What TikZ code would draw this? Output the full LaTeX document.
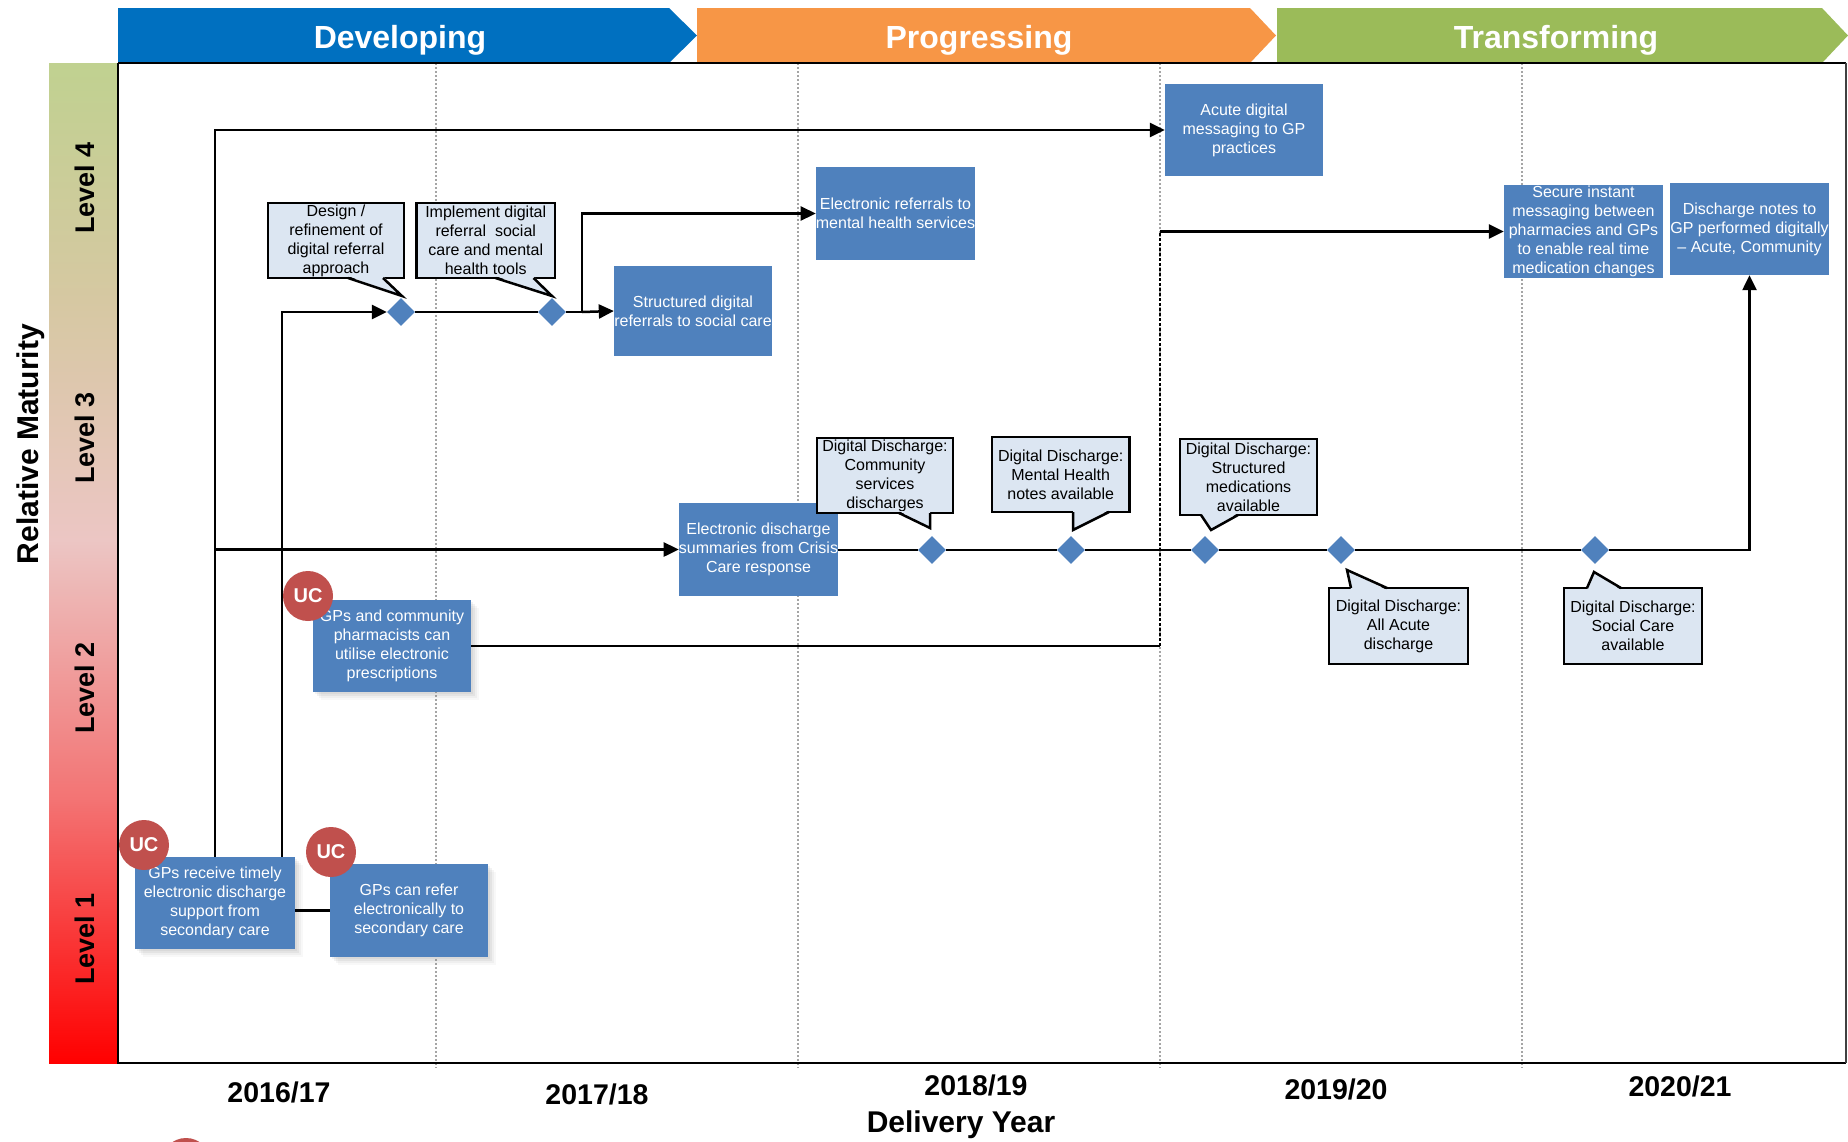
\documentclass[tikz,border=0pt]{standalone}
\usepackage{fontspec}
\setmainfont{Liberation Sans}
\usetikzlibrary{arrows.meta,shapes.geometric,shadows,calc}

\definecolor{devblue}{RGB}{0,112,192}
\definecolor{progorange}{RGB}{247,150,70}
\definecolor{transgreen}{RGB}{155,187,89}
\definecolor{boxblue}{RGB}{79,129,189}
\definecolor{callfill}{RGB}{220,230,242}
\definecolor{ucred}{RGB}{192,80,77}
\definecolor{gridgray}{RGB}{165,165,165}
\definecolor{lvA}{RGB}{192,209,144}
\definecolor{lvB}{RGB}{214,200,162}
\definecolor{lvC}{RGB}{236,198,196}
\definecolor{lvD}{RGB}{243,115,115}
\definecolor{lvE}{RGB}{255,0,0}

\tikzset{
  txt/.style={font=\fontsize{16}{19}\selectfont},
  bluebox/.style={rectangle, fill=boxblue, text=white, inner sep=0pt, align=center, txt},
  shadowed/.style={
    drop shadow={shadow xshift=2pt, shadow yshift=-2pt, opacity=0.10},
    drop shadow={shadow xshift=4pt, shadow yshift=-4pt, opacity=0.10},
    drop shadow={shadow xshift=6pt, shadow yshift=-6pt, opacity=0.08},
    drop shadow={shadow xshift=8pt, shadow yshift=-8pt, opacity=0.05}},
  callbox/.style={rectangle, fill=callfill, draw=black, line width=2.5pt, inner sep=0pt, align=center, txt, text=black},
  milestone/.style={diamond, fill=boxblue, minimum width=28pt, minimum height=28pt, inner sep=0pt},
  ucbadge/.style={circle, fill=ucred, text=white, minimum size=50pt, inner sep=0pt, font=\fontsize{20}{20}\selectfont\bfseries},
  link/.style={line width=2.5pt, draw=black},
  arrowlink/.style={link, -{Triangle[length=15pt,width=14pt]}},
  pointerline/.style={line width=2.5pt, line join=miter},
  phasetxt/.style={font=\fontsize{32}{32}\selectfont\bfseries, text=white, anchor=base, inner sep=0pt},
  leveltxt/.style={font=\fontsize{27}{27}\selectfont\bfseries, rotate=90, inner sep=0pt},
  yeartxt/.style={font=\fontsize{28.5}{30}\selectfont\bfseries, anchor=base, inner sep=0pt},
  gridline/.style={draw=gridgray, line width=1.5pt, dash pattern=on 2pt off 2pt}
}

\begin{document}
\begin{tikzpicture}[x=1pt,y=-1pt]
\useasboundingbox (0,0) rectangle (1848,1141);
\clip (0,0) rectangle (1848,1141);
\fill[white] (0,0) rectangle (1848,1141);

% maturity colour bar
\shade[top color=lvA, bottom color=lvB] (49,63) rectangle (118,301);
\shade[top color=lvB, bottom color=lvC] (49,300) rectangle (118,541);
\shade[top color=lvC, bottom color=lvD] (49,540) rectangle (118,801);
\shade[top color=lvD, bottom color=lvE] (49,800) rectangle (118,1063);

\node[leveltxt] (lv4) at (85,188) {Level 4};
\node[leveltxt] (lv3) at (85,438) {Level 3};
\node[leveltxt] (lv2) at (85,688) {Level 2};
\node[leveltxt] (lv1) at (85,939) {Level 1};
\node[font=\fontsize{30}{30}\selectfont\bfseries, rotate=90, inner sep=0pt] (ymat) at (31,444) {Relative Maturity};

% phase chevrons
\fill[devblue] (118,8) -- (669,8) -- (697,35.5) -- (669,63) -- (118,63) -- cycle;
\fill[progorange] (697,8) -- (1250,8) -- (1276,35.5) -- (1250,63) -- (697,63) -- cycle;
\fill[transgreen] (1277,8) -- (1822,8) -- (1848,35.5) -- (1822,63) -- (1277,63) -- cycle;
\node[phasetxt] (ph1) at (400,48) {Developing};
\node[phasetxt] (ph2) at (979,48) {Progressing};
\node[phasetxt] (ph3) at (1556,48) {Transforming};

% year dividers
\foreach \gx in {436,798,1160,1522}
  \draw[gridline] (\gx,63) -- (\gx,1068);

% chart frame
\draw[line width=2.5pt] (118,63) -- (1846,63);
\draw[line width=2.5pt] (118,63) -- (118,1063) -- (1846,1063);
\draw[line width=1.2pt, draw=black!75] (1846,63) -- (1846,1063);

% year axis
\node[yeartxt] (y1) at (279,1102) {2016/17};
\node[yeartxt] (y2) at (597,1104) {2017/18};
\node[yeartxt] (y3) at (976,1095) {2018/19};
\node[yeartxt] (y4) at (1336,1099) {2019/20};
\node[yeartxt] (y5) at (1680,1096) {2020/21};
\node[font=\fontsize{30}{30}\selectfont\bfseries, anchor=base, inner sep=0pt] (xlab) at (961,1132) {Delivery Year};

% capability boxes
\node[bluebox, shadowed, minimum width=160pt, minimum height=92pt] (b1) at (215,903)
  {GPs receive timely\\electronic discharge\\support from\\secondary care};
\node[bluebox, shadowed, minimum width=158pt, minimum height=93pt] (b2) at (409,910.5)
  {GPs can refer\\electronically to\\secondary care};
\node[bluebox, shadowed, minimum width=158pt, minimum height=92pt] (b3) at (392,646)
  {GPs and community\\pharmacists can\\utilise electronic\\prescriptions};
\node[bluebox, minimum width=159pt, minimum height=93pt] (b4) at (758.5,549.5)
  {Electronic discharge\\summaries from Crisis\\Care response};
\node[bluebox, minimum width=158pt, minimum height=90pt] (b5) at (693,311)
  {Structured digital\\referrals to social care};
\node[bluebox, minimum width=157pt, minimum height=93pt] (b6) at (895.5,213.5)
  {Electronic referrals to\\mental health services};
\node[bluebox, minimum width=158pt, minimum height=92pt] (b7) at (1244,130)
  {Acute digital\\messaging to GP\\practices};
\node[bluebox, minimum width=159pt, minimum height=93pt] (b8) at (1583.5,231.5)
  {Secure instant\\messaging between\\pharmacies and GPs\\to enable real time\\medication changes};
\node[bluebox, minimum width=157pt, minimum height=92pt] (b9) at (1749.5,229)
  {Discharge notes to\\GP performed digitally\\– Acute, Community};

% milestones
\node[milestone] (d1) at (401,312) {};
\node[milestone] (d2) at (552,312) {};
\node[milestone] (d3) at (932,550) {};
\node[milestone] (d4) at (1071,550) {};
\node[milestone] (d5) at (1205,550) {};
\node[milestone] (d6) at (1341,550) {};
\node[milestone] (d7) at (1595,550) {};

% connectors
\coordinate (j1) at (582,312);
\coordinate (k1) at (1160,646);
\coordinate (k2) at (1160,231.5);

\draw[arrowlink] (b1.north) |- (b7.west);
\draw[arrowlink] (b1.north) |- (b4.west);
\draw[arrowlink] ([xshift=67pt]b1.north) |- (d1.west);
\draw[link] (b2.west -| b1.east) -- (b2.west);
\draw[link] (d1.east) -- (d2.west);
\draw[link] (d2.east) -- (j1);
\draw[arrowlink] (j1) -- (b5.west);
\draw[arrowlink] (j1) |- (b6.west);
\draw[link] (b3.east) -- (k1);
\draw[link, line width=2pt, dash pattern=on 3pt off 2pt] (k1) -- (k2);
\draw[arrowlink] (k2) -- (b8.west);
\draw[link] (b4.east |- d3.west) -- (d3.west);
\draw[link] (d3.east) -- (d4.west);
\draw[link] (d4.east) -- (d5.west);
\draw[link] (d5.east) -- (d6.west);
\draw[link] (d6.east) -- (d7.west);
\draw[arrowlink] (d7.east) -| (b9.south);

% milestone callouts
\node[callbox, minimum width=136pt, minimum height=75pt] (ca) at (336,240.5)
  {Design /\\refinement of\\digital referral\\approach};
\fill[callfill] (348,276) -- (402,296) -- (383,276) -- cycle;
\draw[pointerline] (348,278) -- (402,296) -- (383,278);

\node[callbox, minimum width=138.5pt, minimum height=75pt] (cb) at (485.75,240.5)
  {Implement digital\\referral\ \ social\\care and mental\\health tools};
\fill[callfill] (495.5,276) -- (552,296) -- (533.5,276) -- cycle;
\draw[pointerline] (495.5,278) -- (552,296) -- (533.5,278);

\node[callbox, minimum width=136pt, minimum height=75pt] (cc) at (885,475.5)
  {Digital Discharge:\\Community\\services\\discharges};
\fill[callfill] (899,511) -- (930,528) -- (930,511) -- cycle;
\draw[pointerline] (899,513) -- (930,528) -- (930,513);

\node[callbox, minimum width=137.5pt, minimum height=75pt] (cd) at (1060.75,474.5)
  {Digital Discharge:\\Mental Health\\notes available};
\fill[callfill] (1073,510) -- (1073,530) -- (1109,510) -- cycle;
\draw[pointerline] (1073,512) -- (1073,530) -- (1109,512);

\node[callbox, minimum width=137pt, minimum height=76pt] (ce) at (1248.5,477)
  {Digital Discharge:\\Structured\\medications\\available};
\fill[callfill] (1201,513) -- (1211,530) -- (1238,513) -- cycle;
\draw[pointerline] (1201,515) -- (1211,530) -- (1238,515);

\node[callbox, minimum width=139pt, minimum height=76pt] (cf) at (1398.5,626)
  {Digital Discharge:\\All Acute\\discharge};
\fill[callfill] (1351,590) -- (1347,570) -- (1387,590) -- cycle;
\draw[pointerline] (1351,588) -- (1347,570) -- (1387,588);

\node[callbox, minimum width=138pt, minimum height=76pt] (cg) at (1633,626)
  {Digital Discharge:\\Social Care\\available};
\fill[callfill] (1587,590) -- (1594,572) -- (1621,590) -- cycle;
\draw[pointerline] (1587,588) -- (1594,572) -- (1621,588);

% urgent care badges
\node[ucbadge] (uc1) at (144,845) {UC};
\node[ucbadge] (uc2) at (331,852) {UC};
\node[ucbadge] (uc3) at (308,596) {UC};
\node[ucbadge] (uc4) at (186,1163) {};
\end{tikzpicture}
\end{document}
